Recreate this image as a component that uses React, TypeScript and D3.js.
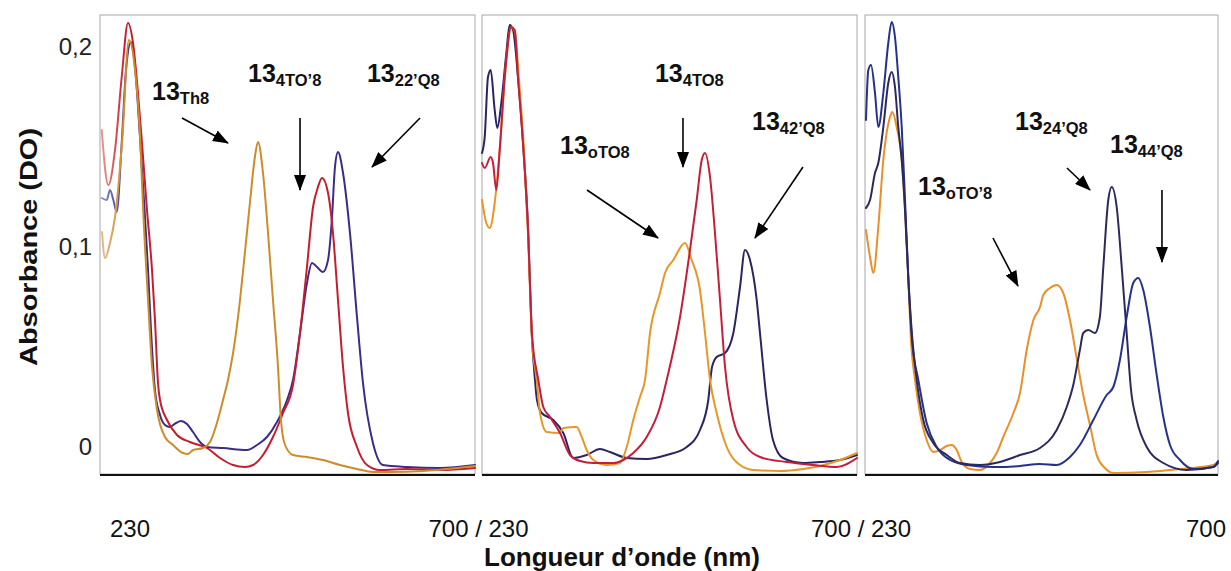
import React from 'react';
import * as d3 from 'd3';

type Pt = [number, number];

// ---------- data (wavelength nm, absorbance DO) ----------
const WAVE_DOMAIN: [number, number] = [230, 700];
const ABS_DOMAIN: [number, number] = [-0.014, 0.2155];

const yTickValues = [0, 0.1, 0.2];
const yTickLabels = ['0', '0,1', '0,2'];
const xTickLabels = ['230', '700 / 230', '700 / 230', '700'];

// Panel 1
const p1_Th8: Pt[] = [[232.5,0.107],[236.3,0.094],[242.5,0.1015],[248.8,0.1145],[257.6,0.1515],[266.3,0.203],[273.9,0.188],[280.1,0.1555],[283.9,0.1195],[290.2,0.073],[295.2,0.0395],[301.5,0.018],[311.5,0.0045],[321.5,0.0005],[334.0,-0.0035],[340.3,-0.004],[346.6,-0.002],[359.1,-0.001],[367.9,0.002],[376.6,0.0115],[384.2,0.023],[390.4,0.033],[397.0,0.047],[405.5,0.073],[411.7,0.097],[418.0,0.122],[424.3,0.145],[428.0,0.152],[434.3,0.1365],[440.6,0.1065],[446.8,0.073],[453.1,0.0395],[456.8,0.013],[461.9,0.0005],[471.9,-0.0045],[489.4,-0.0055],[509.5,-0.007],[530.8,-0.0095],[552.1,-0.0115],[572.1,-0.013],[593.5,-0.013],[634.8,-0.0125],[677.4,-0.011],[700,-0.010]];
const p1_4TOp8: Pt[] = [[232.1,0.158],[240.4,0.1305],[248.8,0.148],[257.2,0.1845],[265.1,0.2115],[271.4,0.2015],[277.6,0.1765],[282.6,0.1515],[288.9,0.118],[295.2,0.088],[298.9,0.063],[302.7,0.0315],[305.2,0.023],[314.0,0.013],[326.5,0.0055],[342.8,0.002],[364.1,-0.001],[380.4,-0.006],[396.7,-0.0095],[411.7,-0.0105],[421.8,-0.0095],[434.3,-0.0045],[446.8,0.0045],[459.4,0.0165],[471.9,0.0305],[480.7,0.0565],[489.4,0.0895],[497.0,0.1195],[503.2,0.1295],[508.2,0.134],[515.8,0.1265],[522.0,0.1065],[528.3,0.073],[534.6,0.0395],[540.8,0.0165],[552.1,-0.0005],[564.6,-0.0095],[580.9,-0.012],[614.8,-0.0115],[656.1,-0.012],[700,-0.011]];
const p1_22pQ8: Pt[] = [[232.1,0.124],[238.4,0.123],[242.5,0.128],[246.7,0.123],[250.9,0.117],[257.2,0.1515],[262.6,0.188],[268.9,0.202],[273.9,0.1895],[280.1,0.1545],[285.1,0.123],[290.2,0.088],[293.9,0.058],[298.9,0.028],[305.2,0.0155],[311.5,0.0105],[317.7,0.0095],[325.2,0.0115],[331.5,0.0125],[339.0,0.011],[346.6,0.007],[355.3,0.002],[364.1,-0.0005],[384.2,-0.001],[414.2,-0.002],[426.8,0.0005],[439.3,0.0045],[451.8,0.012],[464.4,0.023],[471.9,0.033],[480.7,0.0565],[489.4,0.0815],[495.7,0.0915],[502.0,0.0895],[509.5,0.087],[515.8,0.093],[520.8,0.1145],[524.5,0.1395],[528.3,0.147],[534.6,0.1365],[543.3,0.1065],[552.1,0.0645],[559.6,0.0315],[572.1,0.0015],[584.7,-0.0095],[614.8,-0.0105],[656.1,-0.011],[700,-0.0095]];

// Panel 2
const p2_42pQ8: Pt[] = [[230,0.1465],[233.4,0.1545],[237.5,0.1845],[240.9,0.188],[245.9,0.168],[249.2,0.159],[254.2,0.1715],[260.5,0.1965],[264.7,0.2105],[268.9,0.208],[275.1,0.1845],[281.4,0.1515],[287.7,0.1095],[292.3,0.0565],[296.4,0.033],[298.9,0.023],[304.8,0.0165],[319.4,0.013],[331.9,0.0065],[344.4,-0.006],[361.2,-0.0045],[377.9,-0.0015],[390.4,-0.003],[411.4,-0.006],[436.4,-0.0065],[461.5,-0.0045],[486.6,-0.0005],[503.2,0.008],[513.6,0.023],[518.3,0.0395],[524.1,0.0445],[534.6,0.0465],[545.0,0.0565],[553.4,0.0795],[559.6,0.098],[565.9,0.093],[574.3,0.073],[578.4,0.0565],[586.8,0.023],[594.7,0.003],[607.2,-0.006],[632.3,-0.0085],[653.6,-0.008],[678.7,-0.007],[700,-0.0045]];
const p2_4TO8: Pt[] = [[230,0.1415],[233.4,0.139],[240.9,0.1445],[243.8,0.1415],[247.9,0.128],[252.2,0.148],[258.5,0.1845],[266.7,0.2095],[271.0,0.208],[275.1,0.1845],[281.4,0.1515],[287.7,0.108],[292.7,0.0555],[300.6,0.033],[306.8,0.0195],[315.2,0.0145],[327.8,0.0065],[340.3,-0.0045],[352.8,-0.0075],[369.5,-0.0085],[394.6,-0.0085],[407.1,-0.007],[419.6,-0.0035],[436.4,0.0045],[453.1,0.0195],[461.5,0.033],[478.2,0.0645],[490.7,0.098],[499.1,0.123],[505.4,0.143],[509.5,0.1465],[515.8,0.1345],[522.0,0.1065],[528.3,0.073],[534.6,0.0395],[545.0,0.013],[561.7,-0.0005],[578.4,-0.0055],[611.9,-0.008],[645.2,-0.0095],[674.6,-0.0105],[700,-0.006]];
const p2_oTO8: Pt[] = [[230,0.123],[235.4,0.1115],[239.7,0.109],[245.9,0.1215],[252.2,0.148],[260.5,0.193],[266.7,0.2095],[271.4,0.207],[276.4,0.183],[282.6,0.148],[287.7,0.1055],[292.7,0.053],[298.6,0.033],[302.7,0.0165],[311.1,0.007],[327.8,0.0065],[331.9,0.009],[348.7,0.0095],[355.0,0.0045],[361.2,-0.002],[369.5,-0.007],[386.3,-0.0095],[403.0,-0.0085],[411.4,-0.0005],[419.6,0.013],[428.0,0.0245],[434.3,0.033],[440.6,0.0565],[453.1,0.0765],[459.4,0.0865],[469.8,0.093],[484.4,0.1015],[492.8,0.093],[503.2,0.078],[509.5,0.0565],[515.8,0.033],[524.1,0.0165],[536.7,-0.0005],[553.4,-0.0095],[570.0,-0.012],[603.5,-0.0125],[632.7,-0.0115],[653.6,-0.010],[678.7,-0.007],[700,-0.0035]];

// Panel 3
const p3_44pQ8: Pt[] = [[231.3,0.163],[234.4,0.188],[238.0,0.1905],[243.3,0.1765],[247.7,0.1595],[254.4,0.1765],[261.0,0.2015],[265.5,0.212],[269.9,0.2045],[274.3,0.1845],[278.9,0.1595],[283.3,0.123],[287.6,0.0845],[292.6,0.053],[301.0,0.033],[312.1,0.0115],[325.5,-0.0005],[343.2,-0.007],[365.4,-0.0095],[400.9,-0.0105],[436.4,-0.010],[463.0,-0.009],[485.2,-0.0095],[502.9,-0.0055],[516.1,0.0005],[534.0,0.013],[551.8,0.0255],[560.6,0.0295],[569.4,0.043],[578.4,0.0645],[587.2,0.0815],[593.9,0.084],[600.5,0.078],[609.4,0.0595],[618.4,0.0355],[627.2,0.0145],[636.1,0.0005],[649.4,-0.007],[667.1,-0.0115],[693.7,-0.0105],[700,-0.0075]];
const p3_24pQ8: Pt[] = [[231.3,0.119],[236.7,0.123],[243.3,0.1365],[247.7,0.1415],[254.4,0.1595],[261.0,0.1815],[265.5,0.187],[269.9,0.1795],[274.3,0.1595],[278.9,0.143],[283.3,0.118],[287.6,0.0845],[292.6,0.0555],[298.8,0.033],[307.6,0.013],[320.9,0.0015],[338.8,-0.0045],[356.5,-0.0085],[383.1,-0.0095],[409.7,-0.008],[436.4,-0.0045],[463.0,-0.001],[485.2,0.008],[498.6,0.0195],[507.3,0.0305],[516.1,0.048],[520.6,0.0565],[527.3,0.058],[536.2,0.0565],[542.7,0.0645],[547.3,0.0895],[553.9,0.123],[558.5,0.1295],[565.1,0.1195],[571.8,0.0895],[578.4,0.0565],[584.2,0.028],[591.7,0.013],[605.1,-0.0005],[627.2,-0.0085],[658.3,-0.012],[693.8,-0.0105],[700,-0.0085]];
const p3_oTOp8: Pt[] = [[231.3,0.108],[236.7,0.0945],[241.1,0.0865],[247.7,0.1095],[254.4,0.143],[263.3,0.1645],[266.3,0.167],[272.2,0.1595],[278.9,0.143],[283.3,0.118],[287.6,0.0845],[291.2,0.053],[296.6,0.033],[303.2,0.0165],[312.1,0.003],[321.0,-0.003],[329.9,-0.002],[338.8,0],[345.4,0.0005],[352.1,-0.002],[358.7,-0.008],[369.8,-0.0115],[383.1,-0.012],[396.4,-0.0085],[405.3,-0.0035],[414.1,0.0045],[427.6,0.0165],[436.4,0.0265],[445.3,0.048],[454.2,0.063],[463.0,0.0695],[467.4,0.0755],[476.3,0.079],[485.2,0.0805],[494.0,0.0765],[502.9,0.063],[511.8,0.044],[520.6,0.0255],[529.5,0.0105],[538.4,-0.0045],[549.4,-0.011],[560.6,-0.0135],[605.1,-0.013],[649.4,-0.0115],[693.7,-0.0095],[700,-0.008]];

// annotations: label anchor, arrow from -> to (all in nm / DO of their panel)
const annotations = [
  { panel: 0, main: '13', sub: 'Th8', at: [295.2, 0.173], from: [332.8, 0.164], to: [390.4, 0.1515] },
  { panel: 0, main: '13', sub: '4TO\u20198', at: [415.5, 0.182], from: [480.7, 0.164], to: [480.7, 0.128] },
  { panel: 0, main: '13', sub: '22\u2019Q8', at: [564.6, 0.182], from: [631.1, 0.164], to: [570.9, 0.1395] },
  { panel: 1, main: '13', sub: '4TO8', at: [446.8, 0.182], from: [481.9, 0.164], to: [481.9, 0.1395] },
  { panel: 1, main: '13', sub: 'oTO8', at: [327.8, 0.146], from: [361.6, 0.128], to: [450.6, 0.104] },
  { panel: 1, main: '13', sub: '42\u2019Q8', at: [568.4, 0.158], from: [632.3, 0.1395], to: [572.1, 0.104] },
  { panel: 2, main: '13', sub: 'oTO\u20198', at: [300.6, 0.1255], from: [400.4, 0.104], to: [433.7, 0.08] },
  { panel: 2, main: '13', sub: '24\u2019Q8', at: [429.7, 0.158], from: [498.9, 0.139], to: [529.6, 0.128] },
  { panel: 2, main: '13', sub: '44\u2019Q8', at: [556.2, 0.1465], from: [625.4, 0.128], to: [625.4, 0.092] },
];

// ---------- layout / styles ----------
const W = 1231, H = 571;
const TOP = 15, BOTTOM = 474;
const FONT = '"Liberation Sans", Arial, Helvetica, sans-serif';

const panels = [
  { left: 100, right: 475, pale: true, series: [
    { id: 'p1b', color: '#3b2b8a', paleColor: '#8d9bc9', data: p1_22pQ8 },
    { id: 'p1r', color: '#c41e2e', paleColor: '#eaa08e', data: p1_4TOp8 },
    { id: 'p1o', color: '#cc8c2a', paleColor: '#e6bb90', data: p1_Th8 },
  ]},
  { left: 482, right: 857, pale: false, series: [
    { id: 'p2n', color: '#2a2462', paleColor: '#2a2462', data: p2_42pQ8 },
    { id: 'p2o', color: '#e8962a', paleColor: '#e8962a', data: p2_oTO8 },
    { id: 'p2r', color: '#c41e3a', paleColor: '#c41e3a', data: p2_4TO8 },
  ]},
  { left: 865, right: 1218, pale: false, series: [
    { id: 'p3o', color: '#e8902a', paleColor: '#e8902a', data: p3_oTOp8 },
    { id: 'p3b', color: '#26318c', paleColor: '#26318c', data: p3_44pQ8 },
    { id: 'p3n', color: '#2c2a5c', paleColor: '#2c2a5c', data: p3_24pQ8 },
  ]},
];

export default function App() {
  const y = d3.scaleLinear().domain(ABS_DOMAIN).range([BOTTOM, TOP]);
  const xs = panels.map(p => d3.scaleLinear().domain(WAVE_DOMAIN).range([p.left, p.right]));

  return (
    <svg width={W} height={H} style={{ position: 'absolute', left: 0, top: 0, background: '#fff' }}
      fontFamily={FONT}>
      <defs>
        <marker id="ah" viewBox="0 0 16 12" refX={15} refY={6} markerWidth={16} markerHeight={12}
          markerUnits="userSpaceOnUse" orient="auto">
          <path d="M0,0 L16,6 L0,12 Z" fill="#000" />
        </marker>
        {panels.map((p, pi) => p.series.map(s => (
          <linearGradient key={s.id} id={'g' + s.id} gradientUnits="userSpaceOnUse"
            x1={xs[pi](230)} x2={xs[pi](262)} y1={0} y2={0}>
            <stop offset="0" stopColor={s.paleColor} />
            <stop offset="1" stopColor={s.color} />
          </linearGradient>
        )))}
      </defs>
      <rect x={0} y={0} width={W} height={H} fill="#fff" />

      {panels.map((p, pi) => {
        const x = xs[pi];
        const line = d3.line<Pt>().x(d => x(d[0])).y(d => y(d[1])).curve(d3.curveMonotoneX);
        return (
          <g key={pi}>
            <rect x={p.left} y={TOP} width={p.right - p.left} height={BOTTOM - TOP}
              fill="none" stroke="#a8a8a8" strokeWidth={1} />
            {p.series.map(s => (
              <path key={s.id} d={line(s.data) || ''} fill="none"
                stroke={p.pale ? `url(#g${s.id})` : s.color} strokeWidth={2}
                strokeLinejoin="round" strokeLinecap="round" />
            ))}
            <line x1={p.left} x2={p.right} y1={BOTTOM + 1} y2={BOTTOM + 1} stroke="#111" strokeWidth={2} />
          </g>
        );
      })}

      {annotations.map((a, i) => {
        const x = xs[a.panel];
        return (
          <g key={i}>
            <line x1={x(a.from[0])} y1={y(a.from[1])} x2={x(a.to[0])} y2={y(a.to[1])}
              stroke="#000" strokeWidth={1.6} markerEnd="url(#ah)" />
            <text x={x(a.at[0])} y={y(a.at[1])} fontWeight="bold" fontSize={25} fill="#111">
              <tspan>{a.main}</tspan>
              <tspan fontSize={16.5} dy={3.5}>{a.sub}</tspan>
            </text>
          </g>
        );
      })}

      {yTickValues.map((v, i) => (
        <text key={i} x={92} y={y(v)} textAnchor="end" dominantBaseline="central"
          fontSize={24} fill="#222">{yTickLabels[i]}</text>
      ))}

      <text transform="translate(28,247) rotate(-90)" textAnchor="middle" dominantBaseline="central"
        fontSize={24} fontWeight="bold" fill="#111" textLength={238} lengthAdjust="spacingAndGlyphs">
        Absorbance (DO)
      </text>

      {xTickLabels.map((t, i) => {
        let cx: number;
        if (i === 0) cx = xs[0](230) + 30;
        else if (i === 3) cx = xs[2](700) - 12;
        else cx = (xs[i - 1](700) + xs[i](230)) / 2;
        return (
          <text key={i} x={cx} y={537} textAnchor="middle" fontSize={24} fill="#111">{t}</text>
        );
      })}

      <text x={622} y={566} textAnchor="middle" fontSize={26} fontWeight="bold" fill="#111">
        Longueur d{'\u2019'}onde (nm)
      </text>
    </svg>
  );
}
